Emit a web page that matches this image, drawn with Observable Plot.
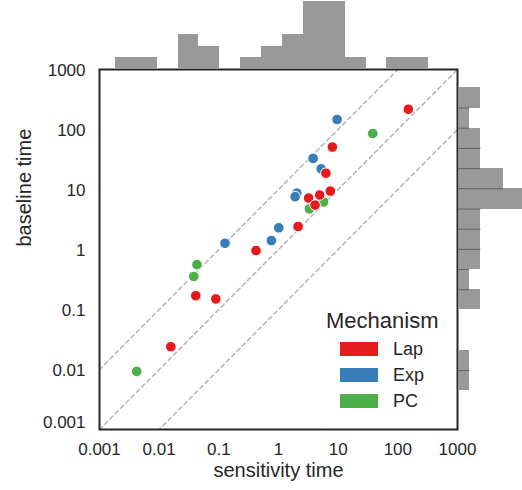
<!DOCTYPE html>
<html><head><meta charset="utf-8">
<script src="https://cdn.jsdelivr.net/npm/d3@7"></script>
<script src="https://cdn.jsdelivr.net/npm/@observablehq/plot@0.6"></script>
<style>
html,body{margin:0;padding:0;background:#fff;overflow:hidden;}
#wrap{position:relative;width:522px;height:490px;font-family:"Liberation Sans",Arial,sans-serif;color:#262626;}
#wrap > svg, #wrap > div{position:absolute;}
</style></head><body><div id="wrap"></div>
<script>
// ---- data ----
const mechanisms = ["Lap", "Exp", "PC"];
const mechColors = ["#e41a1c", "#377eb8", "#4daf4a"];

const pointMech = ["Exp","Exp","Exp","Exp","Exp","Exp","Exp","Exp",
                   "PC","PC","PC","PC","PC","PC",
                   "Lap","Lap","Lap","Lap","Lap","Lap","Lap","Lap","Lap","Lap","Lap","Lap"];
const sensitivity = [9.6, 3.8, 5.2, 2.03, 1.9, 1.01, 0.76, 0.127,
                     38, 5.7, 3.3, 0.043, 0.038, 0.0042,
                     150, 8.0, 6.24, 7.4, 4.9, 3.2, 4.1, 2.13, 0.42, 0.041, 0.089, 0.0157];
const baseline = [147, 33, 22.1, 8.7, 7.6, 2.3, 1.41, 1.27,
                  86, 6.2, 4.76, 0.56, 0.355, 0.0093,
                  218, 51, 18.7, 9.4, 8.1, 7.2, 5.5, 2.42, 0.96, 0.17, 0.15, 0.024];

const tickValues = [0.001, 0.01, 0.1, 1, 10, 100, 1000];
const tickLabels = ["0.001", "0.01", "0.1", "1", "10", "100", "1000"];
const refRatios = [10, 1, 0.1];

// marginal histogram (top): bin edges along sensitivity time, counts
const xHistEdges = [0.00185, 0.00414, 0.00927, 0.0207, 0.0465, 0.104, 0.233, 0.521, 1.167, 2.61, 5.85, 13.1, 29.3, 65.6, 147, 329];
const xHistCounts = [1, 1, 0, 3, 2, 0, 1, 2, 3, 6, 6, 1, 0, 1, 1];
// marginal histogram (right): bin edges along baseline time (top to bottom), counts
const yHistEdges = [495, 228, 105, 48.4, 22.3, 10.3, 4.73, 2.18, 1.005, 0.462, 0.213, 0.0982, 0.0452, 0.0208, 0.0096, 0.00442];
const yHistCounts = [2, 1, 2, 2, 4, 6, 2, 2, 2, 1, 2, 0, 0, 1, 1];

// ---- build ----
const FONT = '"Liberation Sans", Arial, sans-serif';
const TEXT = "#262626";
const HIST = "#999999";
const wrap = document.getElementById("wrap");

const pts = sensitivity.map((s, i) => ({s, b: baseline[i], m: pointMech[i]}));
const refLines = refRatios.flatMap(r => [
  {x: tickValues[0], y: tickValues[0] * r, r},
  {x: tickValues[tickValues.length - 1], y: tickValues[tickValues.length - 1] * r, r}
]);
const fmt = d => tickLabels[tickValues.indexOf(d)];

const main = Plot.plot({
  width: 522, height: 490,
  marginLeft: 99, marginRight: 65, marginTop: 69, marginBottom: 61,
  style: {fontFamily: FONT, fontSize: "17px", color: TEXT, background: "transparent"},
  x: {type: "log", domain: [0.001, 1000]},
  y: {type: "log", domain: [0.001, 1000]},
  color: {domain: mechanisms, range: mechColors},
  marks: [
    Plot.line(refLines, {x: "x", y: "y", z: "r", stroke: "#b4b4b4", strokeWidth: 1.5, strokeDasharray: "4,3.5", clip: true}),
    Plot.dot(pts, {x: "s", y: "b", fill: "m", r: 5.3, stroke: "white", strokeWidth: 1}),
    Plot.frame({stroke: TEXT, strokeWidth: 2}),
    Plot.axisX({ticks: tickValues, tickFormat: fmt, tickSize: 0, tickPadding: 13, label: null, fill: TEXT}),
    Plot.axisY({ticks: tickValues.slice(1), tickFormat: fmt, tickSize: 0, tickPadding: 14, label: null, dy: 1.5, fill: TEXT}),
    Plot.axisY({ticks: tickValues.slice(0, 1), tickFormat: fmt, tickSize: 0, tickPadding: 14, label: null, dy: -7, fill: TEXT}),
    Plot.text(["sensitivity time"], {frameAnchor: "bottom", dy: 41, fontSize: 20, fill: TEXT, lineAnchor: "middle"}),
    Plot.text(["baseline time"], {frameAnchor: "left", dx: -75, dy: -3, rotate: -90, fontSize: 20, fill: TEXT, lineAnchor: "middle"})
  ]
});
main.style.left = "0px"; main.style.top = "0px";
wrap.appendChild(main);

// top marginal histogram
const xBins = xHistCounts.map((c, i) => ({x1: xHistEdges[i], x2: xHistEdges[i + 1], c})).filter(d => d.c > 0);
const topHist = Plot.plot({
  width: 522, height: 69, marginLeft: 99, marginRight: 65, marginTop: 0, marginBottom: 1,
  style: {background: "transparent"},
  x: {type: "log", domain: [0.001, 1000], axis: null},
  y: {domain: [0, 68 / 11.2], axis: null},
  marks: [Plot.rectY(xBins, {x1: "x1", x2: "x2", y1: 0, y2: "c", fill: HIST, inset: 0, shapeRendering: "crispEdges"})]
});
topHist.style.left = "0px"; topHist.style.top = "0px";
wrap.appendChild(topHist);

// right marginal histogram
const yBins = yHistCounts.map((c, i) => ({y1: yHistEdges[i], y2: yHistEdges[i + 1], c})).filter(d => d.c > 0);
const seams = [];
for (let i = 0; i < yHistCounts.length - 1; i++) {
  if (yHistCounts[i] > 0 && yHistCounts[i + 1] > 0) seams.push({y: yHistEdges[i + 1], c: Math.min(yHistCounts[i], yHistCounts[i + 1])});
}
const rightHist = Plot.plot({
  width: 65, height: 490, marginLeft: 1, marginRight: 0, marginTop: 69, marginBottom: 61,
  style: {background: "transparent"},
  x: {domain: [0, 64 / 11.2], axis: null},
  y: {type: "log", domain: [0.001, 1000], axis: null},
  marks: [
    Plot.rectX(yBins, {y1: "y1", y2: "y2", x1: 0, x2: "c", fill: HIST, inset: 0, clip: true, shapeRendering: "crispEdges"}),
    Plot.ruleY(seams, {y: "y", x1: 0, x2: "c", stroke: "#606060", strokeWidth: 1, clip: true})
  ]
});
rightHist.style.left = "457px"; rightHist.style.top = "0px";
wrap.appendChild(rightHist);

// legend
const legend = document.createElement("div");
legend.style.cssText = "left:326px;top:310px;font-family:" + FONT + ";color:" + TEXT + ";";
const title = document.createElement("div");
title.textContent = "Mechanism";
title.style.cssText = "font-size:22px;line-height:22px;height:22px;margin-bottom:3.6px;white-space:nowrap;";
legend.appendChild(title);
mechanisms.forEach((m, i) => {
  const row = document.createElement("div");
  row.style.cssText = "display:flex;align-items:center;height:26.2px;";
  const sw = document.createElement("div");
  sw.style.cssText = "margin-left:14px;width:38px;height:14px;background:" + mechColors[i] + ";";
  const lab = document.createElement("div");
  lab.textContent = m;
  lab.style.cssText = "margin-left:15px;font-size:18px;line-height:18px;";
  row.appendChild(sw); row.appendChild(lab);
  legend.appendChild(row);
});
wrap.appendChild(legend);
</script>
</body></html>
